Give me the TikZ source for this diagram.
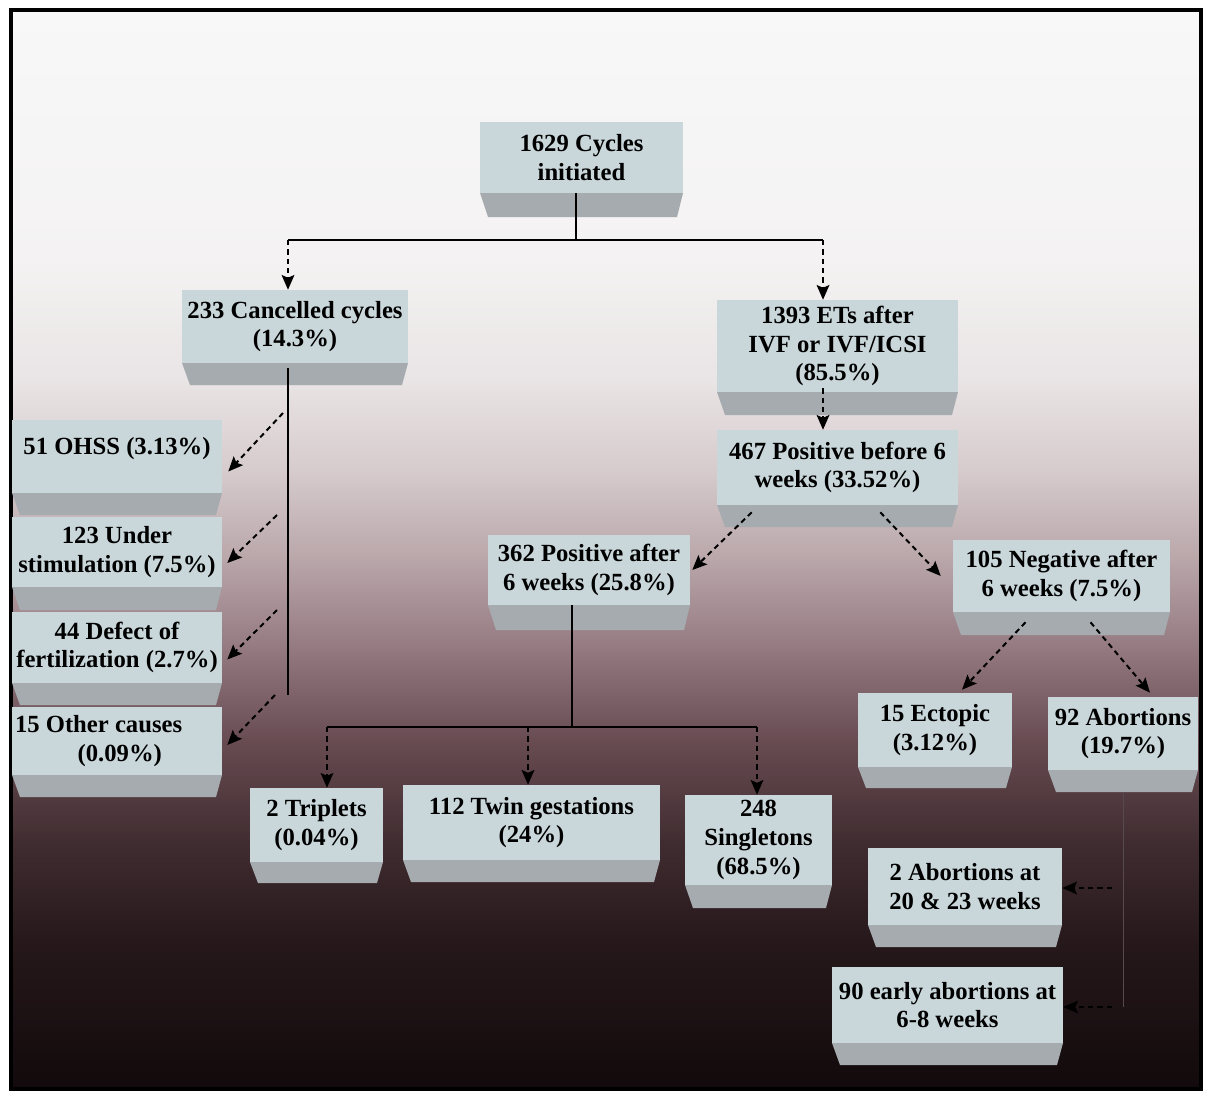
\documentclass[tikz,border=0pt]{standalone}
\usepackage{fontspec}
\setmainfont{Liberation Serif}
\usetikzlibrary{arrows.meta,calc}
\definecolor{facec}{HTML}{C9D6DA}
\definecolor{bevc}{HTML}{A5ABAE}
\definecolor{g0}{HTML}{F8F8F8}
\definecolor{g1}{HTML}{F4F2F2}
\definecolor{g2}{HTML}{E9E4E5}
\definecolor{g3}{HTML}{D6CBCD}
\definecolor{g4}{HTML}{B9A6A9}
\definecolor{g5}{HTML}{937880}
\definecolor{g6}{HTML}{684C52}
\definecolor{g7}{HTML}{412D31}
\definecolor{g8}{HTML}{26181B}
\definecolor{g9}{HTML}{120A0C}
\definecolor{faintc}{HTML}{574A4E}
\tikzset{
  boxface/.style={fill=facec, inner sep=0pt, align=center,
    font=\fontsize{18.5}{21.5}\selectfont\bfseries},
  solidline/.style={line width=1.5pt, black},
  dasharrow/.style={line width=1.5pt, black, dash pattern=on 4pt off 3pt,
    -{Stealth[length=11pt,width=9.5pt,inset=2pt]}},
  faintline/.style={line width=0.6pt, faintc},
}
\newcommand\cbox[7]{%
  \fill[bevc] (#2,#5) -- (#4,#5) -- ({#4-6},#6) -- ({#2+8},#6) -- cycle;
  \node[boxface, minimum width={(#4-#2)*0.75pt}, minimum height={(#5-#3)*0.75pt}]
    (#1) at ({(#2+#4)/2},{(#3+#5)/2}) {#7};
}
\newcommand\bgseg[4]{\shade[top color=#2, bottom color=#4] (12,#1) rectangle (1200,#3);}
\begin{document}
\begin{tikzpicture}[x=0.75pt,y=-0.75pt]
\useasboundingbox (0,0) rectangle (1205,1092);
\fill[white] (0,0) rectangle (1205,1092);
% background gradient
\bgseg{12}{g0}{261}{g1}
\bgseg{260}{g1}{381}{g2}
\bgseg{380}{g2}{471}{g3}
\bgseg{470}{g3}{561}{g4}
\bgseg{560}{g4}{651}{g5}
\bgseg{650}{g5}{741}{g6}
\bgseg{740}{g6}{841}{g7}
\bgseg{840}{g7}{941}{g8}
\bgseg{940}{g8}{1088}{g9}
\draw[line width=3.5pt] (11,10) rectangle (1201,1089);

% boxes
\cbox{c1629}{480}{122}{683}{193}{217}{1629 Cycles\\initiated}
\cbox{cancel}{182}{290}{408}{363}{385}{233 Cancelled cycles\\(14.3\%)}
\cbox{ets}{717}{300}{958}{392}{415}{1393 ETs after\\IVF or IVF/ICSI\\(85.5\%)}
\cbox{pos467}{717}{430}{958}{505}{527}{467 Positive before 6\\weeks (33.52\%)}
\cbox{ohss}{12}{420}{222}{493}{515}{\raisebox{16pt}{51 OHSS (3.13\%)}}
\cbox{under}{12}{517}{222}{587}{610}{123 Under\\stimulation (7.5\%)}
\cbox{defect}{12}{612}{222}{683}{705}{44 Defect of\\fertilization (2.7\%)}
\cbox{other}{12}{707}{222}{775}{797}{\makebox[153pt][l]{\begin{tabular}{@{}l@{}}15 Other causes\\\hspace{47pt}(0.09\%)\end{tabular}}}
\cbox{pos362}{488}{535}{690}{605}{630}{362 Positive after\\6 weeks (25.8\%)}
\cbox{neg105}{953}{540}{1170}{612}{635}{105 Negative after\\6 weeks (7.5\%)}
\cbox{ectopic}{858}{693}{1012}{767}{788}{15 Ectopic\\(3.12\%)}
\cbox{abort92}{1048}{697}{1198}{770}{792}{92 Abortions\\(19.7\%)}
\cbox{trip}{250}{788}{383}{862}{883}{2 Triplets\\(0.04\%)}
\cbox{twin}{403}{785}{660}{860}{882}{112 Twin gestations\\(24\%)}
\cbox{single}{685}{795}{832}{885}{908}{248\\Singletons\\(68.5\%)}
\cbox{ab2}{868}{848}{1062}{925}{947}{2 Abortions at\\20 \& 23 weeks}
\cbox{ab90}{832}{967}{1063}{1043}{1065}{90 early abortions at\\6-8 weeks}

% top split
\coordinate (j1) at ($(c1629.south)+(-5.5,47)$);
\coordinate (j1l) at (288,240);
\coordinate (j1r) at (823,240);
\draw[solidline] ($(c1629.south)+(-5.5,0)$) -- (j1);
\draw[solidline] (j1l) -- (j1r);
\draw[dasharrow] (j1l) -- (j1l |- cancel.north);
\draw[dasharrow] (j1r) -- (j1r |- ets.north);

% cancelled branch
\coordinate (cvt) at ($(cancel.south)+(-7,5)$);
\coordinate (cvb) at ($(cancel.south)+(-7,332)$);
\draw[solidline] (cvt) -- (cvb);
\coordinate (s1) at (283,413);
\coordinate (s2) at (277,515);
\coordinate (s3) at (277,610);
\coordinate (s4) at (275,695);
\draw[dasharrow] (s1) -- ($(ohss.east)+(6,15)$);
\draw[dasharrow] (s2) -- ($(under.east)+(5,11)$);
\draw[dasharrow] (s3) -- ($(defect.east)+(5,12)$);
\draw[dasharrow] (s4) -- ($(other.east)+(5,4)$);

% ETs branch
\draw[dasharrow] ($(ets.south)+(-14.5,-4)$) -- ($(pos467.north)+(-14.5,0)$);
\draw[dasharrow] ($(pos467.south west)+(35,7)$) -- ($(pos362.east)+(2,0)$);
\draw[dasharrow] ($(pos467.south east)+(-78,7)$) -- ($(neg105.west)+(-12,0)$);
\draw[dasharrow] ($(neg105.south)+(-36,10)$) -- ($(ectopic.north)+(27,-3)$);
\draw[dasharrow] ($(neg105.south)+(29,10)$) -- ($(abort92.north)+(27,-4)$);

% positive after 6 weeks split
\coordinate (j2) at ($(pos362.south)+(-17,122)$);
\coordinate (j2l) at (327,727);
\coordinate (j2m) at (528,727);
\coordinate (j2r) at (757,727);
\draw[solidline] ($(pos362.south)+(-17,0)$) -- (j2);
\draw[solidline] (j2l) -- (j2r);
\draw[dasharrow] (j2l) -- (j2l |- trip.north);
\draw[dasharrow] (j2m) -- (j2m |- twin.north);
\draw[dasharrow] (j2r) -- (j2r |- single.north);

% abortions
\coordinate (fv1) at ($(abort92.south)+(0,22)$);
\coordinate (fv2) at (1123,1007);
\draw[faintline] (fv1) -- (fv2);
\coordinate (f1) at (1112,888);
\coordinate (f2) at (1112,1007);
\draw[dasharrow] (f1) -- (ab2.east |- f1);
\draw[dasharrow, line width=1pt] (f2) -- (ab90.east |- f2);
\end{tikzpicture}
\end{document}
